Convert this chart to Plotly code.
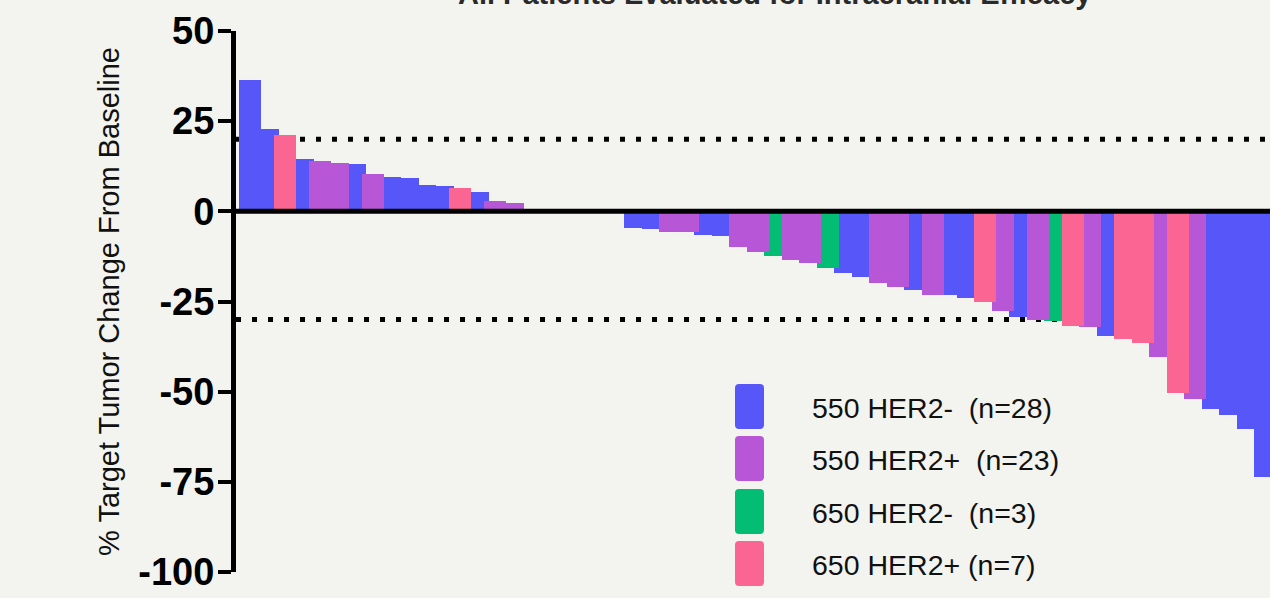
import plotly.graph_objects as go

# ---------------- data (patients in display order) ----------------
values = [36.4, 22.8, 21.1, 14.4, 13.9, 13.3, 13.0, 10.3, 9.4, 9.2, 7.2, 6.9, 6.6, 5.5, 2.8, 2.2,
          0, 0, 0, 0, 0, 0,
          -4.7, -5.0, -5.6, -5.8, -6.6, -6.7, -10.0, -11.4, -12.5, -13.6, -14.2, -15.8,
          -17.2, -18.1, -20.0, -21.1, -21.7, -23.1, -23.3, -23.9, -25.0, -27.5, -29.4,
          -30.0, -30.3, -31.7, -32.0, -34.7, -35.3, -36.4, -40.3, -50.3, -51.9, -54.7,
          -56.4, -60.3, -73.6]
# 0 = 550 HER2-, 1 = 550 HER2+, 2 = 650 HER2-, 3 = 650 HER2+
groups = [0, 0, 3, 0, 1, 1, 0, 1, 0, 0, 0, 0, 3, 0, 1, 1,
          0, 1, 0, 1, 0, 1,
          0, 0, 1, 1, 0, 0, 1, 1, 2, 1, 1, 2,
          0, 0, 1, 1, 0, 1, 0, 0, 3, 1, 0,
          1, 2, 3, 1, 0, 3, 3, 1, 3, 1, 0,
          0, 0, 0]
group_names = ["550 HER2-", "550 HER2+", "650 HER2-", "650 HER2+"]
group_n = [28, 23, 3, 7]
label_gaps = [2, 2, 2, 1]
group_colors = ["#5757F9", "#B756D7", "#03BD75", "#FA6594"]
y_ticks = [-100, -75, -50, -25, 0, 25, 50]
ref_lines = [20, -30]
title_text = "All Patients Evaluated for Intracranial Efficacy"
y_title = "% Target Tumor Change From Baseline"

# ---------------- layout geometry ----------------
W, H = 1270, 598
ML, MR, MT, MB = 236, 0, 31, 26
PW, PH = W - ML - MR, H - MT - MB
BG = "#F3F4F0"
FONT = "Liberation Sans, Arial, sans-serif"


def px_x(p):
    return (p - ML) / PW


def px_y(p):
    return (H - MB - p) / PH


def rounded_rect(x0, y0, x1, y1, r):
    # pixel box -> paper-coordinate SVG path with rounded corners
    X = lambda v: f"{px_x(v):.5f}"
    Y = lambda v: f"{px_y(v):.5f}"
    return (f"M {X(x0 + r)},{Y(y0)} L {X(x1 - r)},{Y(y0)} Q {X(x1)},{Y(y0)} {X(x1)},{Y(y0 + r)} "
            f"L {X(x1)},{Y(y1 - r)} Q {X(x1)},{Y(y1)} {X(x1 - r)},{Y(y1)} "
            f"L {X(x0 + r)},{Y(y1)} Q {X(x0)},{Y(y1)} {X(x0)},{Y(y1 - r)} "
            f"L {X(x0)},{Y(y0 + r)} Q {X(x0)},{Y(y0)} {X(x0 + r)},{Y(y0)} Z")


fig = go.Figure()

# draw order: blue, green, purple, pink; larger magnitude on top within a group
for g in [0, 2, 1, 3]:
    idx = [i for i in range(len(values)) if groups[i] == g]
    idx.sort(key=lambda i: abs(values[i]))
    fig.add_trace(go.Bar(
        x=idx, y=[values[i] for i in idx], width=1.257,
        marker=dict(color=group_colors[g], line=dict(width=0)),
        name=group_names[g], showlegend=False, hoverinfo="x+y"))

shapes = []
for v in ref_lines:
    shapes.append(dict(type="line", xref="paper", yref="y", x0=0, x1=1, y0=v, y1=v,
                       layer="below", line=dict(color="black", width=5, dash="5px,11px")))
shapes.append(dict(type="line", xref="paper", yref="y", x0=0, x1=1, y0=0, y1=0,
                   layer="above", line=dict(color="black", width=5)))

annotations = []
# legend
sw_top = [384, 436, 489, 541]
for k in range(4):
    t = sw_top[k]
    shapes.append(dict(type="path", xref="paper", yref="paper",
                       path=rounded_rect(735, t, 764, t + 45, 4),
                       fillcolor=group_colors[k], line=dict(width=0),
                       layer="above"))
    label = f"{group_names[k]}{chr(160) * label_gaps[k]}(n={group_n[k]})"
    annotations.append(dict(text=label, xref="paper", yref="paper",
                            x=px_x(810), y=px_y(t + 24), xanchor="left", yanchor="middle",
                            showarrow=False, font=dict(family=FONT, size=28.5, color="#111111")))

annotations.append(dict(text=f"<b>{title_text}</b>", xref="paper", yref="paper",
                        x=px_x(774), y=px_y(12), xanchor="center", yanchor="bottom",
                        showarrow=False, font=dict(family=FONT, size=29, color="#2a2a2a")))

fig.update_layout(
    width=W, height=H, autosize=False,
    margin=dict(l=ML, r=MR, t=MT, b=MB, pad=0),
    paper_bgcolor=BG, plot_bgcolor=BG,
    barmode="overlay", bargap=0,
    showlegend=False,
    shapes=shapes, annotations=annotations,
    xaxis=dict(range=[(ML - 250) / 17.5, (W - 250) / 17.5], visible=False, fixedrange=True),
    yaxis=dict(range=[-100, 50], tickvals=y_ticks, ticktext=[str(v) for v in y_ticks],
               showgrid=False, zeroline=False, showline=True, linecolor="black", linewidth=5,
               ticks="outside", ticklen=13, tickwidth=4, tickcolor="black",
               ticklabelstandoff=-4,
               tickfont=dict(family=FONT, size=38, color="black", weight="bold"),
               title=dict(text=y_title, font=dict(family=FONT, size=29, color="#111111"),
                          standoff=12)),
)

fig.write_html("out.html", config={"displayModeBar": False},
               post_script="document.body.style.margin='0';document.body.style.overflow='hidden';")
